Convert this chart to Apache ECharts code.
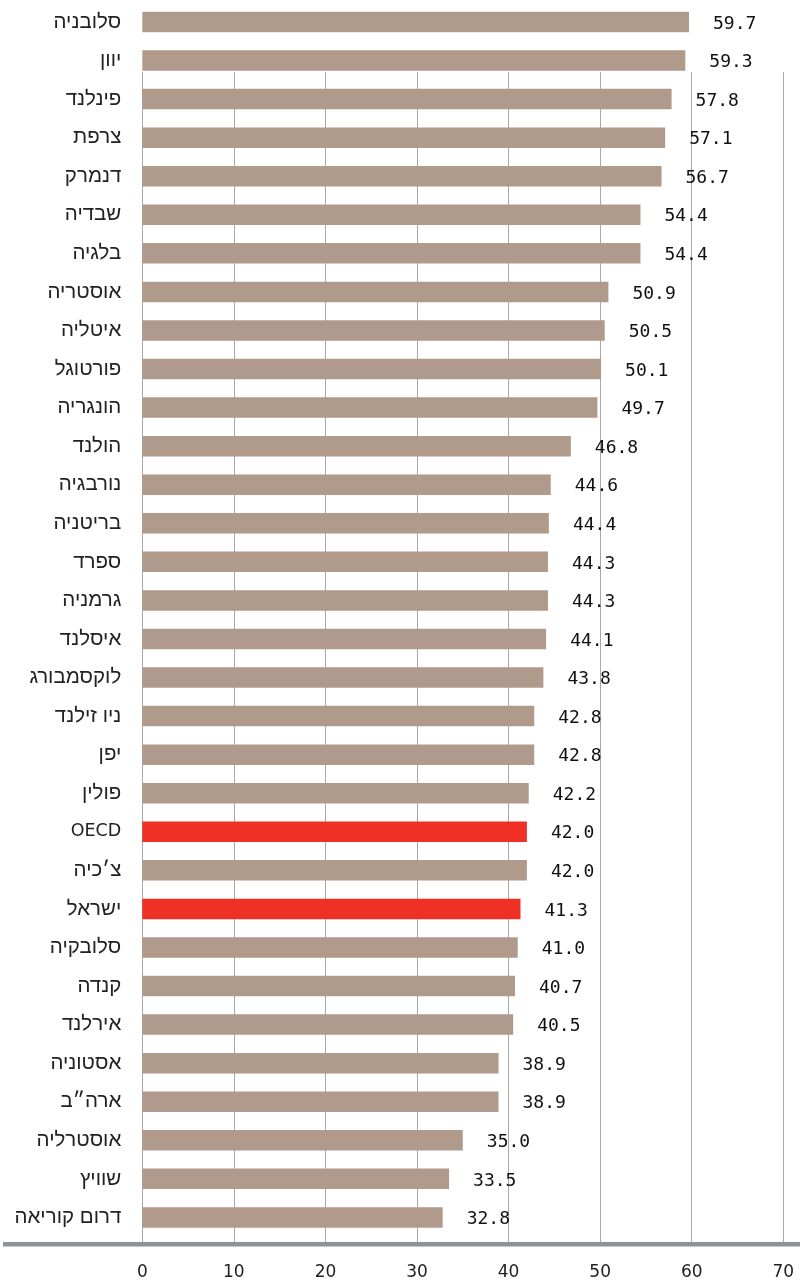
<!DOCTYPE html>
<html>
<head>
<meta charset="utf-8">
<script src="https://cdn.jsdelivr.net/npm/echarts@6/dist/echarts.min.js"></script>
<style>
html,body{margin:0;padding:0;background:#fff;}
#chart{width:800px;height:1281px;}
</style>
</head>
<body>
<div id="chart"></div>
<script>
const categories = ["סלובניה","יוון","פינלנד","צרפת","דנמרק","שבדיה","בלגיה","אוסטריה","איטליה","פורטוגל","הונגריה","הולנד","נורבגיה","בריטניה","ספרד","גרמניה","איסלנד","לוקסמבורג","ניו זילנד","יפן","פולין","OECD","צ׳כיה","ישראל","סלובקיה","קנדה","אירלנד","אסטוניה","ארה״ב","אוסטרליה","שוויץ","דרום קוריאה"];
const values = [59.7,59.3,57.8,57.1,56.7,54.4,54.4,50.9,50.5,50.1,49.7,46.8,44.6,44.4,44.3,44.3,44.1,43.8,42.8,42.8,42.2,42.0,42.0,41.3,41.0,40.7,40.5,38.9,38.9,35.0,33.5,32.8];
const highlighted = ["OECD","ישראל"];
const xTicks = [0,10,20,30,40,50,60,70];

const BROWN = '#b09a8b', RED = '#ee3124';
const hebFont = '"Liberation Sans", sans-serif';
const latFont = '"DejaVu Sans", sans-serif';
const numFont = '"DejaVu Sans Mono", monospace';

const catData = categories.map(c => /[A-Za-z]/.test(c)
  ? {value: c, textStyle: {fontFamily: latFont, fontSize: 17.5}}
  : {value: c});

const chart = echarts.init(document.getElementById('chart'));
chart.setOption({
  animation: false,
  backgroundColor: '#fff',
  grid: [
    {left: 142.3, right: 16.7, top: 2.7, height: 1234},
    {left: 142.3, right: 16.7, top: 72, bottom: 37}
  ],
  xAxis: [
    {gridIndex: 0, type: 'value', min: xTicks[0], max: xTicks[xTicks.length-1], interval: 10,
     axisLine: {show: false}, axisTick: {show: false}, axisLabel: {show: false}, splitLine: {show: false}},
    {gridIndex: 1, type: 'value', min: xTicks[0], max: xTicks[xTicks.length-1], interval: 10,
     axisLine: {show: false}, axisTick: {show: false},
     axisLabel: {show: true, margin: 20, color: '#222', fontFamily: latFont, fontSize: 17},
     splitLine: {show: true, lineStyle: {color: '#a8a8a8', width: 1}}}
  ],
  yAxis: [
    {gridIndex: 0, type: 'category', data: catData, inverse: true,
     axisLine: {show: false}, axisTick: {show: false},
     axisLabel: {margin: 21, color: '#222', fontFamily: hebFont, fontSize: 20.5}},
    {gridIndex: 1, type: 'value', min: 0, max: 1, show: false}
  ],
  graphic: [
    {type: 'rect', shape: {x: 3, y: 1242, width: 797, height: 4.5}, style: {fill: '#8e9196'}, z: 10}
  ],
  series: [
    {type: 'bar', xAxisIndex: 0, yAxisIndex: 0, barWidth: 20.5,
     data: values.map((v, i) => ({value: v, itemStyle: {color: highlighted.includes(categories[i]) ? RED : BROWN}})),
     label: {show: true, position: 'right', distance: 24, offset: [0, 2],
       formatter: p => p.value.toFixed(1), color: '#111', fontFamily: numFont, fontSize: 18}},
    {type: 'scatter', xAxisIndex: 1, yAxisIndex: 1, data: [], silent: true}
  ]
});
</script>
</body>
</html>
